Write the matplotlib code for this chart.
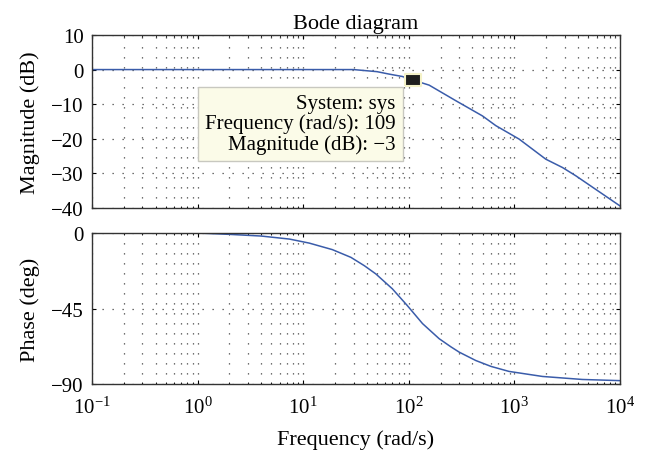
import numpy as np
import matplotlib
matplotlib.use("Agg")
import matplotlib.pyplot as plt
from matplotlib.ticker import LogLocator, LogFormatterMathtext, NullFormatter

plt.rcParams['font.family'] = ['Liberation Serif', 'DejaVu Serif']
plt.rcParams['mathtext.fontset'] = 'stix'
plt.rcParams['font.size'] = 15

# values
mag_freq = [0.1, 1, 10, 30, 50, 65, 87, 109, 156, 279, 499, 667, 1110, 1985, 2853, 3820, 10000]
mag_db = [0.0, 0.0, 0.0, 0.0, -0.6, -1.3, -2.0, -3.0, -4.5, -9.0, -13.4, -16.2, -20.1, -25.9, -28.3, -30.7, -39.4]

phase_freq = [0.1, 1, 2, 4, 7.4, 11.4, 18.9, 28.3, 38, 48.8, 70, 97, 135, 194, 250, 300, 431, 600, 890, 1845, 4410, 10000]
phase_deg = [0.0, 0.0, -0.8, -1.8, -3.6, -6.0, -9.9, -14.5, -19.5, -24.4, -33.3, -43.3, -54.0, -63.0, -67.8, -71.0, -76.0, -79.5, -82.5, -85.5, -87.3, -88.0]

tip_freq = 109
tip_mag = -3

line_color = '#3a5caa'
grid_style = (0, (1, 7))

fig = plt.figure(figsize=(6.5, 4.56), dpi=100)
ax1 = fig.add_axes([0.1415, 0.5417, 0.8123, 0.3794])
ax2 = fig.add_axes([0.1415, 0.1557, 0.8123, 0.3311])

for ax in (ax1, ax2):
    ax.set_xscale('log')
    ax.set_xlim(0.1, 1e4)
    ax.xaxis.set_major_locator(LogLocator(base=10, numticks=10))
    ax.xaxis.set_minor_locator(LogLocator(base=10, subs=np.arange(2, 10), numticks=20))
    ax.xaxis.set_minor_formatter(NullFormatter())
    ax.grid(True, which='major', linestyle=grid_style, color='#444444', linewidth=0.9)
    ax.grid(True, which='minor', axis='x', linestyle=grid_style, color='#444444', linewidth=0.9)
    ax.tick_params(which='both', direction='in', top=True, right=True)
    ax.tick_params(which='major', length=3, labelsize=15, pad=6)
    ax.tick_params(which='minor', length=1.5)
    for s in ax.spines.values():
        s.set_color('#333333')
        s.set_linewidth(1.0)

ax1.plot(mag_freq, mag_db, color=line_color, linewidth=1.1)
ax1.set_ylim(-40, 10)
ax1.set_yticks([10, 0, -10, -20, -30, -40])
ax1.xaxis.set_major_formatter(NullFormatter())
ax1.set_ylabel('Magnitude (dB)', fontsize=16, labelpad=8)
ax1.set_title('Bode diagram', fontsize=16, pad=5)

# data tip
rect = [(-1.4, -1), (1.4, -1), (1.4, 1), (-1.4, 1), (-1.4, -1)]
ax1.plot([tip_freq], [tip_mag], linestyle='none', marker=rect, markersize=12,
         markerfacecolor='#1e1e1e', markeredgecolor='#f4f2c8', markeredgewidth=1.5, zorder=5)
ax1.annotate('System: sys\nFrequency (rad/s): %d\nMagnitude (dB): \u2212%d' % (tip_freq, -tip_mag),
             xy=(tip_freq, tip_mag), xytext=(-17, -14), textcoords='offset pixels',
             ha='right', va='top', multialignment='right', fontsize=15, linespacing=1.05,
             bbox=dict(boxstyle='square,pad=0.35', facecolor='#fbfbe8', edgecolor='#c8c8c0', linewidth=1.0),
             zorder=4)

ax2.plot(phase_freq, phase_deg, color=line_color, linewidth=1.1)
ax2.set_ylim(-90, 0)
ax2.set_yticks([0, -45, -90])
ax2.xaxis.set_major_formatter(LogFormatterMathtext())
ax2.tick_params(axis='x', which='major', pad=9)
ax2.set_ylabel('Phase (deg)', fontsize=16, labelpad=8)
ax2.set_xlabel('Frequency (rad/s)', fontsize=16, labelpad=8)

fig.savefig('out.png', dpi=100)
